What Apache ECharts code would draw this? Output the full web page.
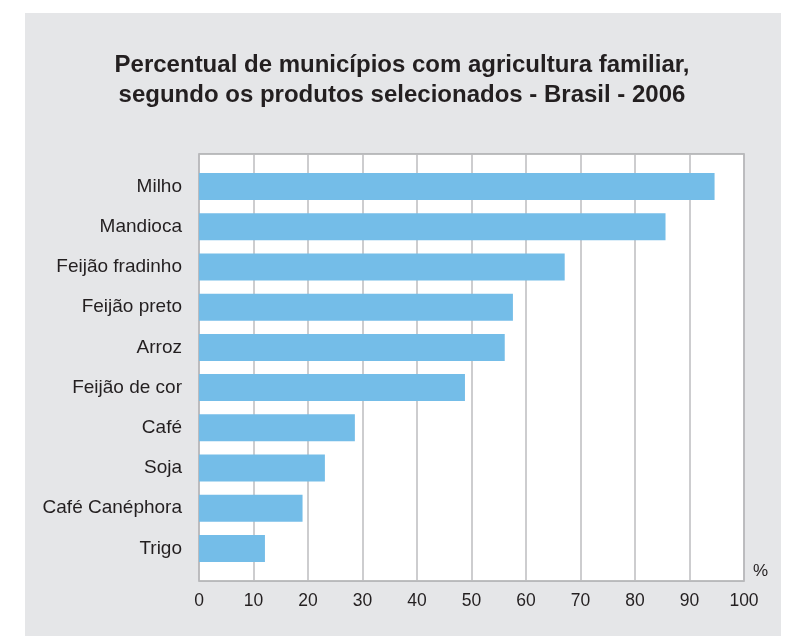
<!DOCTYPE html>
<html>
<head>
<meta charset="utf-8">
<script src="https://cdn.jsdelivr.net/npm/echarts@6/dist/echarts.min.js"></script>
<style>
html,body{margin:0;padding:0;background:#fff;}
#c{width:787px;height:636px;}
</style>
</head>
<body>
<div id="c"></div>
<script>
const titleLines = ['Percentual de municípios com agricultura familiar,', 'segundo os produtos selecionados - Brasil - 2006'];
const categories = ['Milho','Mandioca','Feijão fradinho','Feijão preto','Arroz','Feijão de cor','Café','Soja','Café Canéphora','Trigo'];
const values = [94.6, 85.6, 67.1, 57.6, 56.1, 48.8, 28.6, 23.1, 19.0, 12.1];
const xTicks = [0,10,20,30,40,50,60,70,80,90,100];
const unitLabel = '%';

const chart = echarts.init(document.getElementById('c'), null, {renderer:'canvas'});
const font = 'Liberation Sans, Arial, sans-serif';
chart.setOption({
  backgroundColor: '#ffffff',
  animation: false,
  graphic: [
    {type:'rect', z:-10, shape:{x:25,y:13,width:756,height:623}, style:{fill:'#e5e6e8'}},
    {type:'text', x:402, y:50, z:10,
     style:{text: titleLines.join('\n'), font:'bold 24px ' + font, fill:'#231f20', textAlign:'center', textVerticalAlign:'top', lineHeight:30}},
    {type:'text', left:753, top:563, style:{text: unitLabel, font:'17px ' + font, fill:'#231f20'}}
  ],
  grid: [
    {left:199, top:154, width:545, height:427, show:true, backgroundColor:'#ffffff', borderColor:'#a9aaac', borderWidth:1.5, containLabel:false},
    {left:199, top:166.5, width:545, height:402, containLabel:false}
  ],
  xAxis: [
    {gridIndex:0, type:'value', min:xTicks[0], max:xTicks[xTicks.length-1], interval:10,
     axisLine:{show:false}, axisTick:{show:false},
     splitLine:{show:true, lineStyle:{color:'#bcbdbf', width:1.5}},
     axisLabel:{color:'#231f20', fontSize:17.5, fontFamily:font, margin:11}},
    {gridIndex:1, type:'value', min:0, max:100, show:false}
  ],
  yAxis: [
    {gridIndex:0, type:'value', show:false, splitLine:{show:false}},
    {gridIndex:1, type:'category', data:categories, inverse:true,
     axisLine:{show:false}, axisTick:{show:false}, splitLine:{show:false},
     axisLabel:{color:'#231f20', fontSize:19, fontFamily:font, margin:17}}
  ],
  series: [
    {type:'bar', xAxisIndex:1, yAxisIndex:1, data:values, barWidth:27,
     itemStyle:{color:'#74bde8'}, silent:true}
  ]
});
</script>
</body>
</html>
